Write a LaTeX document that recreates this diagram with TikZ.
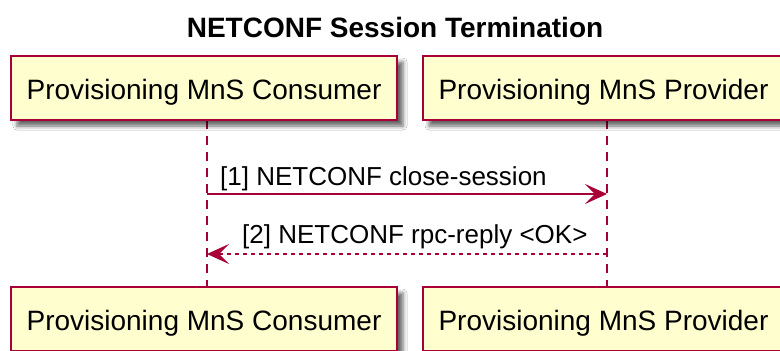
\documentclass[tikz,border=0pt]{standalone}
\usepackage{fontspec}
\setmainfont{Liberation Sans}
\usetikzlibrary{arrows.meta,shadows.blur}
\definecolor{umlred}{HTML}{A80036}
\definecolor{umlfill}{HTML}{FEFECE}
\tikzset{
  participant/.style={draw=umlred, line width=2pt, fill=umlfill,
    minimum height=64pt, inner sep=0pt, text height=28pt, text depth=6pt,
    font=\fontsize{28pt}{32pt}\selectfont,
    blur shadow={shadow xshift=6pt, shadow yshift=-6pt, shadow blur radius=4pt, shadow opacity=60}},
  lifeline/.style={draw=umlred, line width=2pt, dash pattern=on 9pt off 7pt},
  call/.style={draw=umlred, line width=2pt,
    -{Stealth[length=22pt, width=20pt, inset=10pt, fill=umlred]}},
  reply/.style={call, dash pattern=on 4pt off 4pt},
  msglabel/.style={anchor=base west, inner sep=0pt, font=\fontsize{26pt}{30pt}\selectfont},
  titlelabel/.style={anchor=base, inner sep=0pt, font=\fontsize{28pt}{32pt}\selectfont\bfseries}
}
\begin{document}
\begin{tikzpicture}[x=1pt, y=-1pt]
  \useasboundingbox (0,0) rectangle (780,351);
  \fill[white] (0,0) rectangle (780,351);

  % title
  \node[titlelabel] (title) at (395,37) {NETCONF Session Termination};

  % lifelines (drawn first so the boxes sit on top)
  \coordinate (cTopEnd) at (207,120);
  \coordinate (cBotEnd) at (207,287);
  \coordinate (pTopEnd) at (607,120);
  \coordinate (pBotEnd) at (607,287);
  \draw[lifeline] (cTopEnd) -- (cBotEnd);
  \draw[lifeline] (pTopEnd) -- (pBotEnd);

  % participants, top
  \node[participant, minimum width=386pt] (cTop) at (204,88) {Provisioning MnS Consumer};
  \node[participant, minimum width=361pt] (pTop) at (603.5,88) {Provisioning MnS Provider};

  % participants, bottom
  \node[participant, minimum width=386pt] (cBot) at (204,319) {Provisioning MnS Consumer};
  \node[participant, minimum width=361pt] (pBot) at (603.5,319) {Provisioning MnS Provider};

  % messages
  \coordinate (m1from) at (207,194);
  \coordinate (m1to) at (607,194);
  \draw[call] (m1from) -- (m1to);
  \node[msglabel] (m1label) at (220,185) {[1] NETCONF close-session};

  \coordinate (m2from) at (607,254);
  \coordinate (m2to) at (207,254);
  \draw[reply] (m2from) -- (m2to);
  \node[msglabel] (m2label) at (242,243) {[2] NETCONF rpc-reply <OK>};
\end{tikzpicture}
\end{document}
